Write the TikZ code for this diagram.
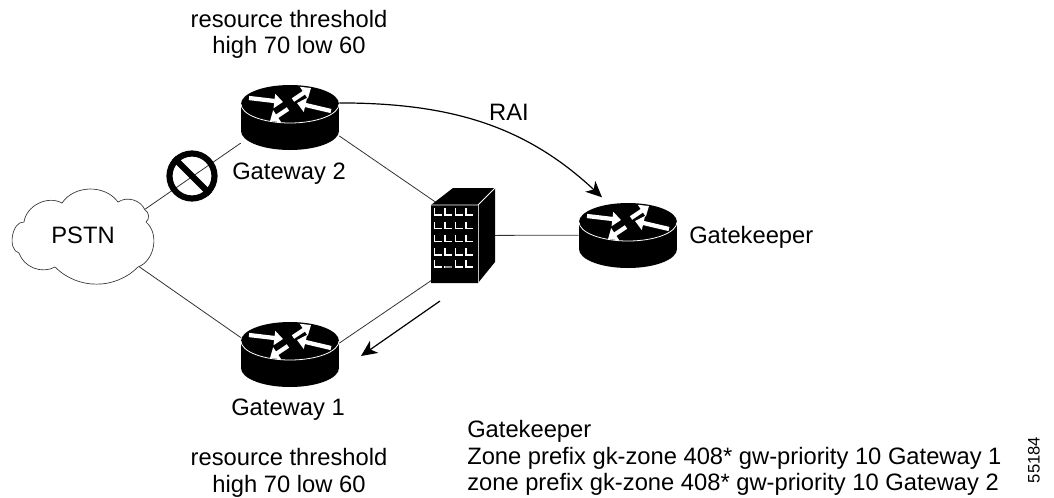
\documentclass[tikz,border=0pt]{standalone}
\usepackage{fontspec}
\setmainfont{Liberation Sans}
\usetikzlibrary{arrows.meta}
\tikzset{>={Stealth[length=12pt,width=11pt,inset=3.5pt]}}
\tikzset{
	txt/.style={font=\fontsize{17.8}{20}\selectfont,inner sep=0pt,align=center},
	site/.style={inner sep=0pt,minimum width=98\pxu,minimum height=64\pxu},
	link/.style={line width=0.6pt,black!80},
	flow/.style={line width=0.9pt,->},
	whitearrow/.style={white,line width=3.2pt,-{Triangle[length=6.5pt,width=10.5pt]}},
	window/.style={white,line width=0.8pt},
	router/.pic={
		\fill (0,27) ellipse[x radius=49,y radius=19];
		\fill (-49,0) rectangle (49,27);
		\fill (0,0) ellipse[x radius=49,y radius=19];
		\draw[white,line width=0.6pt] (-49,0) arc[start angle=180,end angle=0,x radius=49,y radius=19];
		\draw[whitearrow] (-41,-6) -- (-7,-2);
		\draw[whitearrow] (3,-4) -- (21,-16);
		\draw[whitearrow] (41,7) -- (7,-1);
		\draw[whitearrow] (-2,5) -- (-20,17);
	}
}
\newcommand{\pxu}{pt*0.75}
\begin{document}
\begin{tikzpicture}[x=0.75pt,y=-0.75pt]
	\useasboundingbox (0,0) rectangle (1054,497);
	\node[inner sep=0pt,minimum width=78pt,minimum height=63pt] (pstn) at (83,235) {};
	\node[site] (gw2) at (290,118) {};
	\node[site] (gw1) at (290,354.5) {};
	\node[site] (gk) at (628,235) {};
	\node[inner sep=0pt,minimum width=27pt,minimum height=60pt] (bldg) at (463,235.5) {};
	\draw[link] (pstn.20) -- (gw2.207);
	\draw[link] (pstn.-29) -- (gw1.161);
	\draw[link] (gw2.-20) -- (bldg.124);
	\draw[link] (bldg.243.6) -- (gw1.13);
	\draw[link] (bldg) -- (gk);
	\draw[flow,shorten >=8\pxu] (gw2.17) to[out=0,in=137] (gk.122.7);
	\coordinate (backtail) at (440,301);
	\coordinate (backtip) at (361,356);
	\draw[flow] (backtail) -- (backtip);
	\fill[white,draw=black!80,line width=0.5pt] (24,222) to[bend left=55] (62,203) to[bend left=55] (118,202)
		to[bend left=50] (145,210) to[bend left=60] (146,222) to[bend left=60] (138,267)
		to[bend left=45] (55,267) to[bend left=50] (19,253) to[bend left=85] (24,222) -- cycle;
	\node[txt] (pstnlabel) at (83,235) {PSTN};
	\pic at (290,104) {router};
	\pic at (290,341) {router};
	\pic at (628,222) {router};
	\fill (431,205) -- (453,188) -- (495,188) -- (495,262) -- (478,283) -- (431,283) -- cycle;
	\draw[white,line width=0.7pt] (431,205) -- (478,205) -- (495,188);
	\draw[black!25,line width=0.7pt] (478,205) -- (478,283);
	\foreach \col/\xcol in {1/434.5,2/445,3/455.5,4/466}
		\foreach \yrow in {215,228.5,241.5,255,267}
			\draw[window] (\xcol,\yrow-7) -- (\xcol,\yrow) -- ++(7,0);
	\fill[black] (443.5,258) rectangle (453,265.5);
	\draw[black!45,line width=0.9pt] (445,267) -- ++(7,0);
	\node[circle,draw,line width=4.6pt,minimum size=45\pxu,inner sep=0pt] (nosign) at (192,176) {};
	\draw[line width=4.6pt] (nosign.135) -- (nosign.-45);
	\node[txt] (threshold2) at (289,34.5) {resource threshold\\high 70 low 60};
	\node[txt] (threshold1) at (289,473) {resource threshold\\high 70 low 60};
	\node[txt] (gw2label) at (289,174) {Gateway 2};
	\node[txt] (gw1label) at (288,410) {Gateway 1};
	\node[txt,anchor=west] (gklabel) at (689,237) {Gatekeeper};
	\node[txt] (railabel) at (509,112) {RAI};
	\node[txt,anchor=west,align=left] (zonelist) at (467,458) {Gatekeeper\\Zone prefix gk-zone 408* gw-priority 10 Gateway 1\\zone prefix gk-zone 408* gw-priority 10 Gateway 2};
	\node[inner sep=0pt,font=\fontsize{12.5}{14}\selectfont,rotate=90] (figid) at (1034,460) {55184};
\end{tikzpicture}
\end{document}
